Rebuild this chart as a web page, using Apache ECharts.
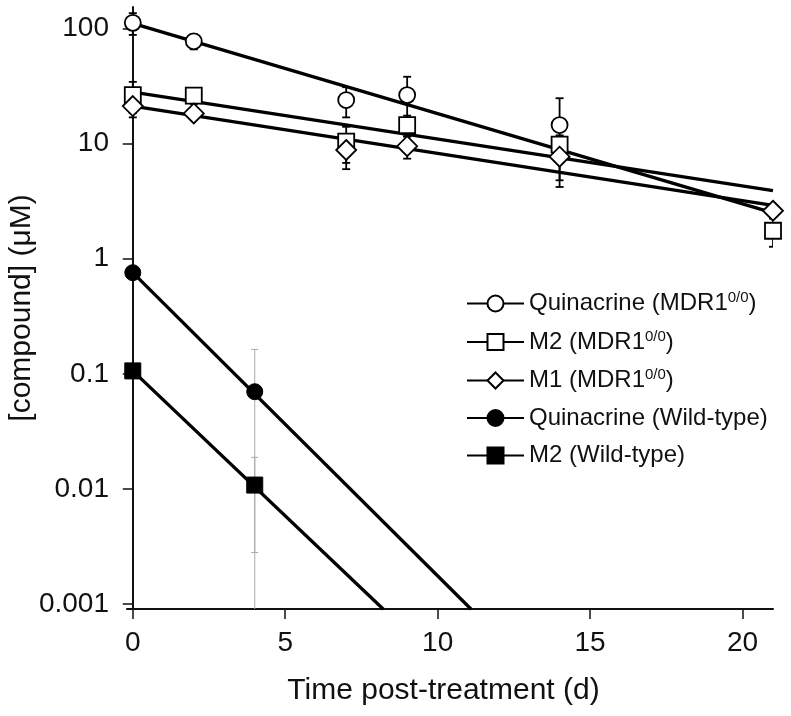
<!DOCTYPE html>
<html><head><meta charset="utf-8">
<script src="https://cdn.jsdelivr.net/npm/echarts@6/dist/echarts.min.js"></script>
<style>html,body{margin:0;padding:0;background:#fff}#c{width:791px;height:716px}</style>
</head><body><div id="c"></div>
<script>
// ---- data ----
const xTicks = [0, 5, 10, 15, 20];
const yTicks = [0.001, 0.01, 0.1, 1, 10, 100];
const yTickLabels = ['0.001', '0.01', '0.1', '1', '10', '100'];

const seriesNames = ['Quinacrine (MDR1 0/0)', 'M2 (MDR1 0/0)', 'M1 (MDR1 0/0)', 'Quinacrine (Wild-type)', 'M2 (Wild-type)'];
const legendMain = ['Quinacrine (MDR1', 'M2 (MDR1', 'M1 (MDR1', 'Quinacrine (Wild-type)', 'M2 (Wild-type)'];
const legendSup = ['0/0', '0/0', '0/0', '', ''];
const legendTail = [')', ')', ')', '', ''];

const quinMDR_t = [0, 2, 7, 9, 14];
const quinMDR_y = [112, 77.4, 23.9, 26.4, 14.5];
const quinMDR_err = [24, 11.5, 7, 11.7, 10.3];

const m2MDR_t = [0, 2, 7, 9, 14, 21];
const m2MDR_y = [26.4, 26.1, 10.4, 14.5, 9.8, 1.75];
const m2MDR_err = [8, 4, 3.6, 3, 2, 0.48];

const m1MDR_t = [0, 2, 7, 9, 14, 21];
const m1MDR_y = [21.2, 18.3, 8.8, 9.5, 7.7, 2.61];
const m1MDR_err = [4.3, 1.5, 2.8, 2.1, 2.9, 0.15];

const quinWT_t = [0, 4];
const quinWT_y = [0.756, 0.0699];
const quinWT_err = [0, 0.093];

const m2WT_t = [0, 4];
const m2WT_y = [0.106, 0.0108];
const m2WT_err = [0, 0.008];

// fitted lines (end points)
const quinMDR_fit_t = [0, 21];   const quinMDR_fit_y = [111, 2.5];
const m2MDR_fit_t = [0, 21];     const m2MDR_fit_y = [28.0, 3.9];
const m1MDR_fit_t = [0, 21];     const m1MDR_fit_y = [21.2, 2.9];
const quinWT_fit_t = [0, 11.1];  const quinWT_fit_y = [0.756, 0.0009];
const m2WT_fit_t = [0, 8.22];    const m2WT_fit_y = [0.106, 0.0009];

// ---- build ----
const zip = (a, b) => a.map((v, i) => [v, b[i]]);
const zip3 = (a, b, c) => a.map((v, i) => [v, b[i], c[i]]);
const FONT = "'Liberation Sans', Arial, sans-serif";

function errRender(color, lw, capW) {
  return function (params, api) {
    const x = api.value(0), y = api.value(1), e = api.value(2);
    if (!e) return null;
    const cs = params.coordSys;
    const hi = api.coord([x, y + e]);
    const hasLo = (y - e) > 0;
    const lo = hasLo ? api.coord([x, y - e]) : [hi[0], cs.y + cs.height];
    const st = { stroke: color, lineWidth: lw };
    const ch = [
      { type: 'line', shape: { x1: hi[0], y1: hi[1], x2: lo[0], y2: lo[1] }, style: st },
      { type: 'line', shape: { x1: hi[0] - capW / 2, y1: hi[1], x2: hi[0] + capW / 2, y2: hi[1] }, style: st }
    ];
    if (hasLo) ch.push({ type: 'line', shape: { x1: lo[0] - capW / 2, y1: lo[1], x2: lo[0] + capW / 2, y2: lo[1] }, style: st });
    return { type: 'group', children: ch };
  };
}

const defs = [
  { name: seriesNames[0], t: quinMDR_t, y: quinMDR_y, e: quinMDR_err, ft: quinMDR_fit_t, fy: quinMDR_fit_y, sym: 'circle', size: 16, fill: '#fff', ec: '#000', ew: 1.8, elw: 1.8, cap: 8 },
  { name: seriesNames[1], t: m2MDR_t, y: m2MDR_y, e: m2MDR_err, ft: m2MDR_fit_t, fy: m2MDR_fit_y, sym: 'rect', size: 16, fill: '#fff', ec: '#000', ew: 1.8, elw: 1.8, cap: 8 },
  { name: seriesNames[2], t: m1MDR_t, y: m1MDR_y, e: m1MDR_err, ft: m1MDR_fit_t, fy: m1MDR_fit_y, sym: 'diamond', size: 20, fill: '#fff', ec: '#000', ew: 1.8, elw: 1.8, cap: 8 },
  { name: seriesNames[3], t: quinWT_t, y: quinWT_y, e: quinWT_err, ft: quinWT_fit_t, fy: quinWT_fit_y, sym: 'circle', size: 16, fill: '#000', ec: '#000', ew: 1, elw: 1, cap: 7, ecol: '#aaa' },
  { name: seriesNames[4], t: m2WT_t, y: m2WT_y, e: m2WT_err, ft: m2WT_fit_t, fy: m2WT_fit_y, sym: 'rect', size: 16, fill: '#000', ec: '#000', ew: 1, elw: 1, cap: 7, ecol: '#aaa' }
];

const series = [];
defs.forEach(d => series.push({
  type: 'line', name: d.name, data: zip(d.ft, d.fy), symbol: d.sym, showSymbol: false,
  lineStyle: { color: '#000', width: 3.3 },
  itemStyle: { color: d.fill, borderColor: d.ec, borderWidth: 1.5 },
  clip: true, z: 3, silent: true
}));
defs.forEach(d => series.push({
  type: 'custom', name: d.name, data: zip3(d.t, d.y, d.e), renderItem: errRender(d.ecol || '#000', d.elw, d.cap),
  encode: { x: 0, y: 1 }, z: 2, silent: true, clip: true
}));
defs.forEach(d => series.push({
  type: 'scatter', name: d.name, data: zip(d.t, d.y), symbol: d.sym, symbolSize: d.size,
  itemStyle: { color: d.fill, borderColor: d.ec, borderWidth: d.ew, opacity: 1 }, z: 5, silent: true
}));

const chart = echarts.init(document.getElementById('c'), null, { renderer: 'canvas' });
chart.setOption({
  animation: false,
  backgroundColor: '#fff',
  textStyle: { fontFamily: FONT },
  grid: { left: 127, right: 18, top: 7, bottom: 107, containLabel: false, outerBoundsMode: 'none' },
  legend: {
    data: seriesNames, orient: 'vertical', left: 466, top: 290.5,
    itemWidth: 57, itemHeight: 20, itemGap: 13.5, selectedMode: false, padding: 0,
    formatter: name => {
      const i = seriesNames.indexOf(name);
      return '{n|' + legendMain[i] + '}' + (legendSup[i] ? '{s|' + legendSup[i] + '}' : '') + (legendTail[i] ? '{n|' + legendTail[i] + '}' : '');
    },
    textStyle: {
      fontFamily: FONT, color: '#111', fontSize: 24,
      rich: {
        n: { fontFamily: FONT, fontSize: 24, color: '#111', lineHeight: 26 },
        s: { fontFamily: FONT, fontSize: 15, color: '#111', lineHeight: 26, verticalAlign: 'top' }
      }
    }
  },
  xAxis: {
    type: 'value', min: -0.19, max: 21,
    name: 'Time post-treatment (d)', nameLocation: 'middle', nameGap: 67, nameMoveOverlap: false,
    nameTextStyle: { fontFamily: FONT, fontSize: 30, color: '#111', padding: [0, 13, 0, 0] },
    axisLine: { show: true, lineStyle: { color: '#111', width: 2 } },
    axisTick: { show: true, inside: false, length: 10, lineStyle: { color: '#111', width: 1.5 }, customValues: xTicks },
    axisLabel: { fontFamily: FONT, fontSize: 28, color: '#111', margin: 20, customValues: xTicks },
    splitLine: { show: false }
  },
  yAxis: {
    type: 'log', min: 0.000905, max: 153.8, logBase: 10,
    name: '[compound] (\u03bcM)', nameLocation: 'middle', nameGap: 90, nameMoveOverlap: false,
    nameTextStyle: { fontFamily: FONT, fontSize: 30, color: '#111' },
    axisLine: { show: true, lineStyle: { color: '#111', width: 2 } },
    axisTick: { show: true, inside: false, length: 10, lineStyle: { color: '#111', width: 1.5 }, customValues: yTicks },
    axisLabel: {
      fontFamily: FONT, fontSize: 28, color: '#111', margin: 18, customValues: yTicks,
      formatter: v => { let best = 0; yTicks.forEach((t, i) => { if (Math.abs(Math.log10(t) - Math.log10(v)) < Math.abs(Math.log10(yTicks[best]) - Math.log10(v))) best = i; }); return yTickLabels[best]; }
    },
    splitLine: { show: false }
  },
  series: series
});
</script></body></html>
